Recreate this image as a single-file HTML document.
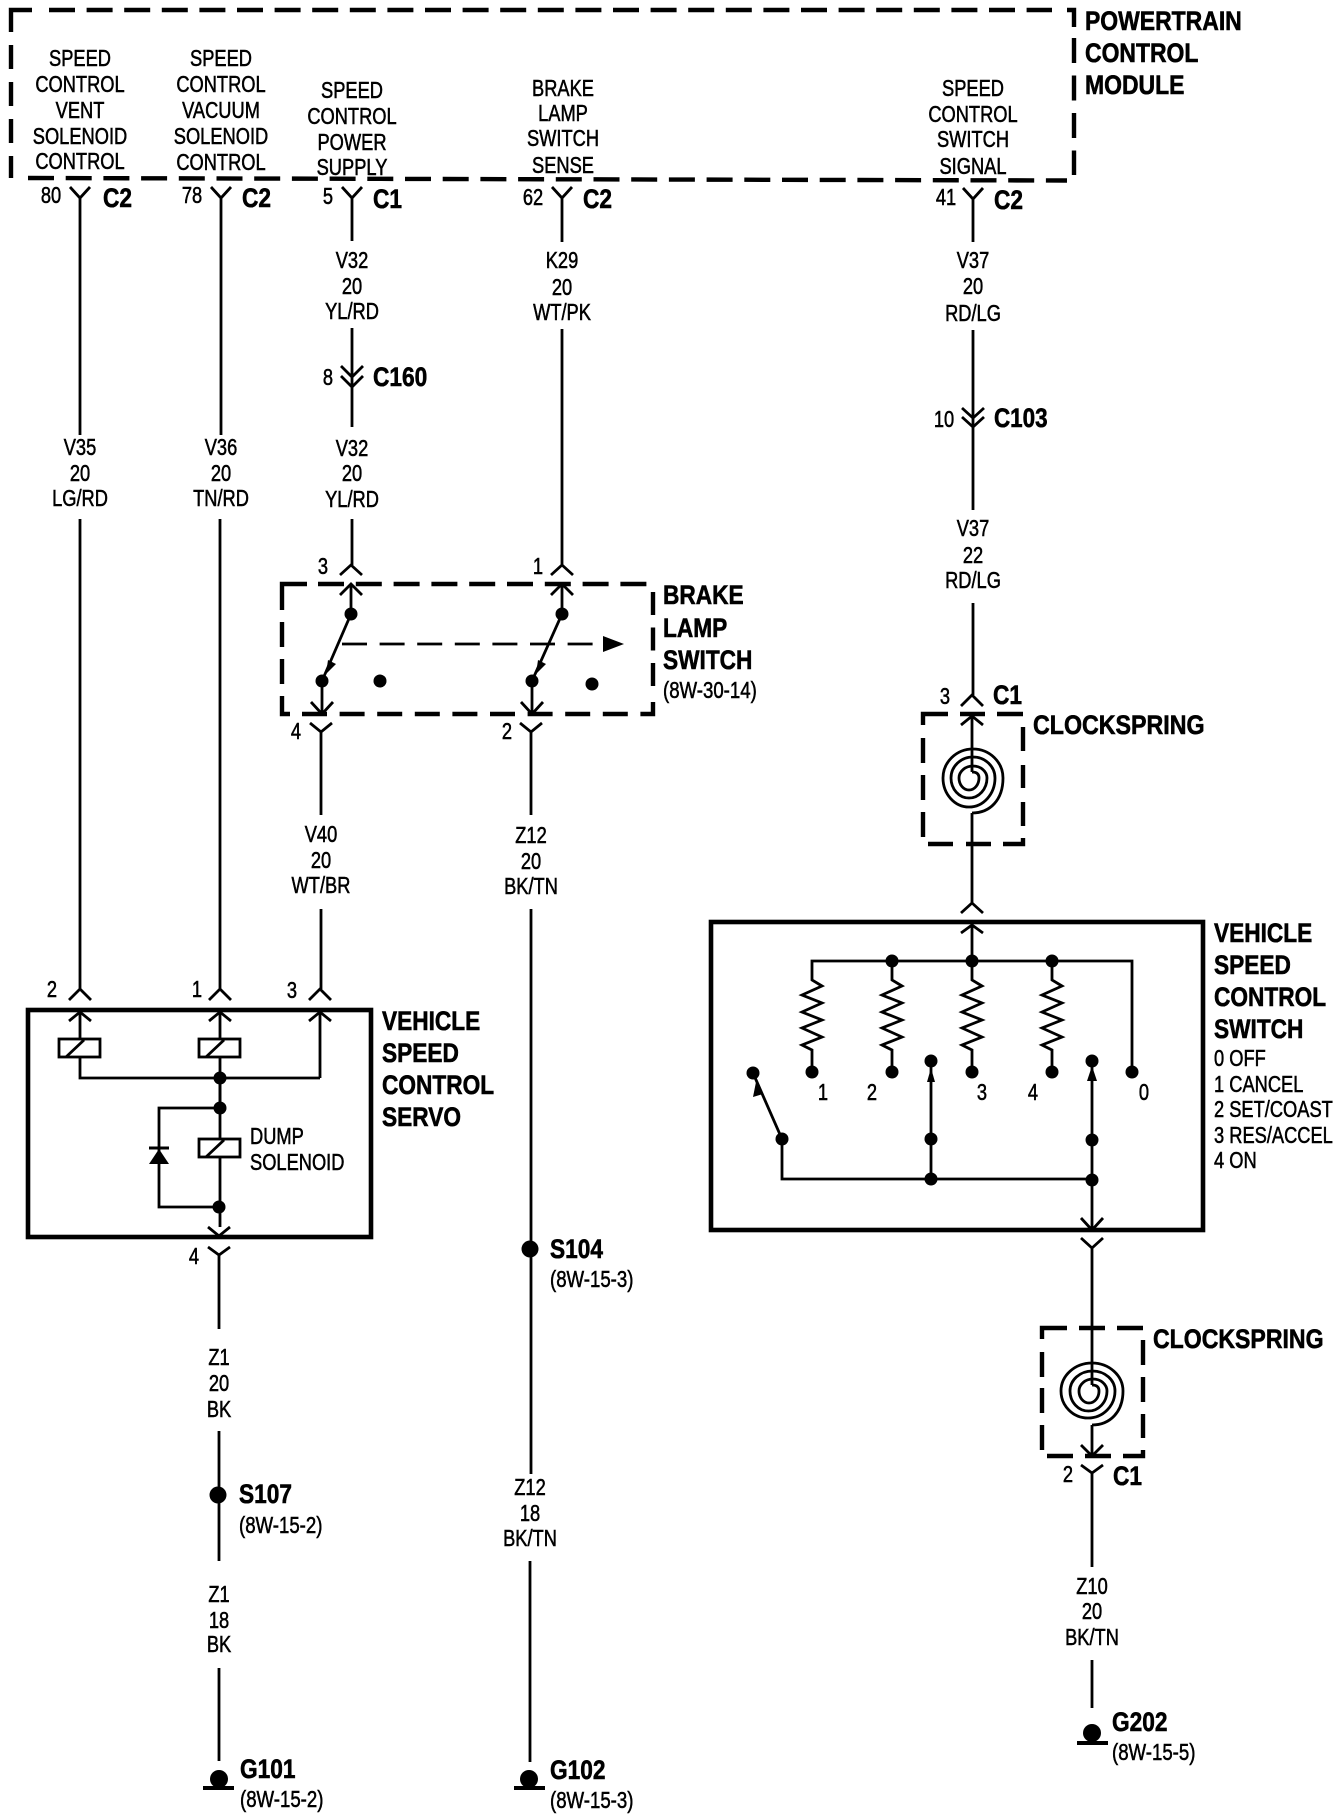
<!DOCTYPE html>
<html><head><meta charset="utf-8"><title>Speed Control Wiring Diagram</title>
<style>
html,body{margin:0;padding:0;background:#fff}
svg{display:block}
text{fill:#000;font-family:"Liberation Sans",sans-serif}
.r{font-size:23px;text-anchor:middle;stroke:#000;stroke-width:.55px}
.l{font-size:23px;stroke:#000;stroke-width:.55px}
.b{font-size:27px;font-weight:bold;stroke:#000;stroke-width:.6px}
.w{fill:none;stroke:#000;stroke-width:2.8}
.d{fill:none;stroke:#000;stroke-width:4.4}
.k{fill:none;stroke:#000;stroke-width:4.6}
</style></head><body>
<svg width="1344" height="1818" viewBox="0 0 1344 1818" xmlns="http://www.w3.org/2000/svg">
<rect width="1344" height="1818" fill="#fff"/>

<!-- PCM dashed box -->
<g class="d">
<path d="M32 10H11V32"/>
<path d="M49 10H1052" stroke-dasharray="26 11.6"/>
<path d="M1067 10H1074V27"/>
<path d="M1074 38V175" stroke-dasharray="25 12.5"/>
<path d="M11 45V178" stroke-dasharray="24 13"/>
<path d="M28 178L1067 180.5" stroke-dasharray="26 11.7"/>
</g>

<!-- PCM text -->
<g class="r">
<text transform="matrix(.795 0 0 1 80 66)">SPEED</text>
<text transform="matrix(.795 0 0 1 80 92)">CONTROL</text>
<text transform="matrix(.795 0 0 1 80 118)">VENT</text>
<text transform="matrix(.795 0 0 1 80 144)">SOLENOID</text>
<text transform="matrix(.795 0 0 1 80 169)">CONTROL</text>
<text transform="matrix(.795 0 0 1 221 66)">SPEED</text>
<text transform="matrix(.795 0 0 1 221 92)">CONTROL</text>
<text transform="matrix(.795 0 0 1 221 118)">VACUUM</text>
<text transform="matrix(.795 0 0 1 221 144)">SOLENOID</text>
<text transform="matrix(.795 0 0 1 221 170)">CONTROL</text>
<text transform="matrix(.795 0 0 1 352 98)">SPEED</text>
<text transform="matrix(.795 0 0 1 352 124)">CONTROL</text>
<text transform="matrix(.795 0 0 1 352 150)">POWER</text>
<text transform="matrix(.795 0 0 1 352 175)">SUPPLY</text>
<text transform="matrix(.795 0 0 1 563 96)">BRAKE</text>
<text transform="matrix(.795 0 0 1 563 121)">LAMP</text>
<text transform="matrix(.795 0 0 1 563 146)">SWITCH</text>
<text transform="matrix(.795 0 0 1 563 173)">SENSE</text>
<text transform="matrix(.795 0 0 1 973 96)">SPEED</text>
<text transform="matrix(.795 0 0 1 973 122)">CONTROL</text>
<text transform="matrix(.795 0 0 1 973 147)">SWITCH</text>
<text transform="matrix(.795 0 0 1 973 174)">SIGNAL</text>

<text transform="matrix(.795 0 0 1 51 203)">80</text>
<text transform="matrix(.795 0 0 1 192 203)">78</text>
<text transform="matrix(.795 0 0 1 328 204)">5</text>
<text transform="matrix(.795 0 0 1 533 205)">62</text>
<text transform="matrix(.795 0 0 1 946 205)">41</text>
<text transform="matrix(.795 0 0 1 328 385)">8</text>
<text transform="matrix(.795 0 0 1 944 427)">10</text>

<text transform="matrix(.795 0 0 1 80 455)">V35</text>
<text transform="matrix(.795 0 0 1 80 481)">20</text>
<text transform="matrix(.795 0 0 1 80 506)">LG/RD</text>
<text transform="matrix(.795 0 0 1 221 455)">V36</text>
<text transform="matrix(.795 0 0 1 221 481)">20</text>
<text transform="matrix(.795 0 0 1 221 506)">TN/RD</text>
<text transform="matrix(.795 0 0 1 352 268)">V32</text>
<text transform="matrix(.795 0 0 1 352 294)">20</text>
<text transform="matrix(.795 0 0 1 352 319)">YL/RD</text>
<text transform="matrix(.795 0 0 1 352 456)">V32</text>
<text transform="matrix(.795 0 0 1 352 481)">20</text>
<text transform="matrix(.795 0 0 1 352 507)">YL/RD</text>
<text transform="matrix(.795 0 0 1 562 268)">K29</text>
<text transform="matrix(.795 0 0 1 562 295)">20</text>
<text transform="matrix(.795 0 0 1 562 320)">WT/PK</text>
<text transform="matrix(.795 0 0 1 973 268)">V37</text>
<text transform="matrix(.795 0 0 1 973 294)">20</text>
<text transform="matrix(.795 0 0 1 973 321)">RD/LG</text>
<text transform="matrix(.795 0 0 1 973 536)">V37</text>
<text transform="matrix(.795 0 0 1 973 563)">22</text>
<text transform="matrix(.795 0 0 1 973 588)">RD/LG</text>
<text transform="matrix(.795 0 0 1 321 842)">V40</text>
<text transform="matrix(.795 0 0 1 321 868)">20</text>
<text transform="matrix(.795 0 0 1 321 893)">WT/BR</text>
<text transform="matrix(.795 0 0 1 531 843)">Z12</text>
<text transform="matrix(.795 0 0 1 531 869)">20</text>
<text transform="matrix(.795 0 0 1 531 894)">BK/TN</text>
<text transform="matrix(.795 0 0 1 530 1495)">Z12</text>
<text transform="matrix(.795 0 0 1 530 1521)">18</text>
<text transform="matrix(.795 0 0 1 530 1546)">BK/TN</text>
<text transform="matrix(.795 0 0 1 219 1365)">Z1</text>
<text transform="matrix(.795 0 0 1 219 1391)">20</text>
<text transform="matrix(.795 0 0 1 219 1417)">BK</text>
<text transform="matrix(.795 0 0 1 219 1602)">Z1</text>
<text transform="matrix(.795 0 0 1 219 1628)">18</text>
<text transform="matrix(.795 0 0 1 219 1652)">BK</text>
<text transform="matrix(.795 0 0 1 1092 1594)">Z10</text>
<text transform="matrix(.795 0 0 1 1092 1619)">20</text>
<text transform="matrix(.795 0 0 1 1092 1645)">BK/TN</text>

<text transform="matrix(.795 0 0 1 323 574)">3</text>
<text transform="matrix(.795 0 0 1 538 574)">1</text>
<text transform="matrix(.795 0 0 1 296 739)">4</text>
<text transform="matrix(.795 0 0 1 507 739)">2</text>
<text transform="matrix(.795 0 0 1 945 704)">3</text>
<text transform="matrix(.795 0 0 1 52 997)">2</text>
<text transform="matrix(.795 0 0 1 197 997)">1</text>
<text transform="matrix(.795 0 0 1 292 998)">3</text>
<text transform="matrix(.795 0 0 1 194 1264)">4</text>
<text transform="matrix(.795 0 0 1 1068 1482)">2</text>
<text transform="matrix(.795 0 0 1 823 1100)">1</text>
<text transform="matrix(.795 0 0 1 872 1100)">2</text>
<text transform="matrix(.795 0 0 1 982 1100)">3</text>
<text transform="matrix(.795 0 0 1 1033 1100)">4</text>
<text transform="matrix(.795 0 0 1 1144 1100)">0</text>
</g>

<!-- left-anchored regular -->
<g class="l">
<text transform="matrix(.81 0 0 1 663 698)">(8W-30-14)</text>
<text transform="matrix(.795 0 0 1 250 1144)">DUMP</text>
<text transform="matrix(.795 0 0 1 250 1170)">SOLENOID</text>
<text transform="matrix(.81 0 0 1 550 1287)">(8W-15-3)</text>
<text transform="matrix(.81 0 0 1 239 1533)">(8W-15-2)</text>
<text transform="matrix(.81 0 0 1 240 1807)">(8W-15-2)</text>
<text transform="matrix(.81 0 0 1 550 1808)">(8W-15-3)</text>
<text transform="matrix(.81 0 0 1 1112 1760)">(8W-15-5)</text>
<text transform="matrix(.795 0 0 1 1214 1066)">0 OFF</text>
<text transform="matrix(.795 0 0 1 1214 1092)">1 CANCEL</text>
<text transform="matrix(.795 0 0 1 1214 1117)">2 SET/COAST</text>
<text transform="matrix(.795 0 0 1 1214 1143)">3 RES/ACCEL</text>
<text transform="matrix(.795 0 0 1 1214 1168)">4 ON</text>
</g>

<!-- bold labels -->
<g class="b">
<text transform="matrix(.85 0 0 1 1085 30)">POWERTRAIN</text>
<text transform="matrix(.85 0 0 1 1085 62)">CONTROL</text>
<text transform="matrix(.85 0 0 1 1085 94)">MODULE</text>
<text transform="matrix(.84 0 0 1 103 207)">C2</text>
<text transform="matrix(.84 0 0 1 242 207)">C2</text>
<text transform="matrix(.84 0 0 1 373 208)">C1</text>
<text transform="matrix(.84 0 0 1 583 208)">C2</text>
<text transform="matrix(.84 0 0 1 994 209)">C2</text>
<text transform="matrix(.84 0 0 1 373 386)">C160</text>
<text transform="matrix(.83 0 0 1 994 427)">C103</text>
<text transform="matrix(.84 0 0 1 663 604)">BRAKE</text>
<text transform="matrix(.84 0 0 1 663 637)">LAMP</text>
<text transform="matrix(.84 0 0 1 663 669)">SWITCH</text>
<text transform="matrix(.84 0 0 1 993 704)">C1</text>
<text transform="matrix(.86 0 0 1 1033 734)">CLOCKSPRING</text>
<text transform="matrix(.84 0 0 1 1214 942)">VEHICLE</text>
<text transform="matrix(.84 0 0 1 1214 974)">SPEED</text>
<text transform="matrix(.84 0 0 1 1214 1006)">CONTROL</text>
<text transform="matrix(.84 0 0 1 1214 1038)">SWITCH</text>
<text transform="matrix(.84 0 0 1 382 1030)">VEHICLE</text>
<text transform="matrix(.84 0 0 1 382 1062)">SPEED</text>
<text transform="matrix(.84 0 0 1 382 1094)">CONTROL</text>
<text transform="matrix(.84 0 0 1 382 1126)">SERVO</text>
<text transform="matrix(.84 0 0 1 550 1258)">S104</text>
<text transform="matrix(.84 0 0 1 239 1503)">S107</text>
<text transform="matrix(.855 0 0 1 1153 1348)">CLOCKSPRING</text>
<text transform="matrix(.84 0 0 1 1113 1485)">C1</text>
<text transform="matrix(.84 0 0 1 240 1778)">G101</text>
<text transform="matrix(.84 0 0 1 550 1779)">G102</text>
<text transform="matrix(.84 0 0 1 1112 1731)">G202</text>
</g>

<!-- Wires and connectors -->
<g class="w">
<!-- col 1 -->
<path d="M70 187L80 198L90 187M80 198V435M80 519V989M69 1000L80 989L91 1000M69 1021L80 1012L91 1021M80 1012V1039M80 1057V1078H320"/>
<!-- col 2 -->
<path d="M211 187L221 198L231 187M221 198V435M220 519V989M209 1000L220 989L231 1000M209 1021L220 1012L231 1021M220 1012V1039M220 1057V1139M220 1157V1227"/>
<!-- col 3 -->
<path d="M342 187L352 198L362 187M352 198V241M352 328V427M341 366L352 377L363 366M341 376L352 387L363 376M352 519V565M340 575L351 565L362 575M340 595L351 584L362 595M351 584V614M351 614L322 681M322 681V714M311 702L322 714L333 702M310 723L321 732L332 723M321 732V815M321 909V989M309 1000L320 989L331 1000M309 1021L320 1012L331 1021M320 1012V1078"/>
<!-- col 4 -->
<path d="M552 187L562 198L572 187M562 198V242M562 329V565M551 575L562 565L573 575M551 595L562 584L573 595M562 584V614M562 614L532 681M532 681V714M521 702L532 714L543 702M520 723L531 732L542 723M531 732V815M531 909V1474M530 1561V1762"/>
<!-- servo lower -->
<path d="M220 1078V1108H159V1207H219M208 1227L219 1236L230 1227M208 1247L219 1255L230 1247M219 1255V1329M219 1431V1561M219 1668V1761"/>
<path d="M66 1057L84 1040M206 1057L224 1040M206 1157L224 1140"/>
<!-- col 5 -->
<path d="M963 188L973 199L983 188M973 199V242M973 330V510M962 408L973 418L984 408M962 417L973 427L984 417M973 603V695M961 706L972 695L983 706M961 725L972 716L983 725M972 716V772"/>
<path d="M972 813V903M961 913L972 903L983 913M961 933L972 925L983 933M972 925V961"/>
<path d="M972 813C990 813 1003 800 1003 778A30 29 0 0 0 943 778A26 29 0 0 0 995 778A22 21 0 0 0 951 778A18 20 0 0 0 987 778A14 12 0 0 0 959 778A10 12 0 0 0 979 778Q979 772 972 772"/>
<!-- switch -->
<path d="M812 1072V1050L802 1045L822 1037L802 1028L822 1020L802 1012L822 1003L802 995L822 986L812 980V961H1132V1072"/>
<path d="M892 1072V1050L882 1045L902 1037L882 1028L902 1020L882 1012L902 1003L882 995L902 986L892 980V961"/>
<path d="M972 1072V1050L962 1045L982 1037L962 1028L982 1020L962 1012L982 1003L962 995L982 986L972 980V961"/>
<path d="M1052 1072V1050L1042 1045L1062 1037L1042 1028L1062 1020L1042 1012L1062 1003L1042 995L1062 986L1052 980V961"/>
<path d="M753 1073L782 1139V1179H1092M931 1179V1061M1092 1061V1228M1081 1218L1092 1230L1103 1218M1081 1238L1092 1248L1103 1238M1092 1248V1385"/>
<path d="M1092 1425C1110 1425 1123 1412 1123 1391A31 28 0 0 0 1061 1391A27 27 0 0 0 1115 1391A22.5 20 0 0 0 1070 1391A18.5 20 0 0 0 1107 1391A14 12 0 0 0 1079 1391A10 12 0 0 0 1099 1391Q1099 1385 1092 1385"/>
<path d="M1092 1425V1456M1081 1445L1092 1456L1103 1445M1081 1465L1092 1473L1103 1465M1092 1473V1567M1092 1660V1708"/>
<!-- solenoid boxes -->
<rect x="59" y="1039" width="41" height="18"/>
<rect x="199" y="1039" width="41" height="18"/>
<rect x="199" y="1139" width="41" height="18"/>
<!-- dashed arrow -->
<path d="M342 644H603" stroke-dasharray="25 12.6"/>
<path d="M149 1148H169" stroke-width="3"/>
</g>

<!-- Dashed switch box -->
<g class="d">
<path d="M307 584H282V610"/>
<path d="M318 584H653" stroke-dasharray="26 11.8"/>
<path d="M282 622V697" stroke-dasharray="25 12"/>
<path d="M282 697V714H290"/>
<path d="M302 714H645" stroke-dasharray="25 12.6"/>
<path d="M653 592V690" stroke-dasharray="23 12.5"/>
<path d="M645 714H653V702"/>
<!-- clockspring 1 -->
<path d="M948 714H923V725M960 714H985M997 714H1023"/>
<path d="M923 738V763M923 775V800M923 812V837"/>
<path d="M1023 727V751M1023 765V788M1023 802V826M1023 838V844H1003V844M991 844H966M953 844H928"/>
<!-- clockspring 2 -->
<path d="M1067 1328H1042V1339M1079 1328H1105M1117 1328H1143"/>
<path d="M1042 1352V1377M1042 1388V1413M1042 1425V1450"/>
<path d="M1143 1340V1365M1143 1377V1402M1143 1414V1438M1143 1450V1456H1123M1111 1456H1085M1073 1456H1047"/>
</g>

<!-- Solid boxes -->
<rect class="k" x="28" y="1010" width="343" height="227"/>
<rect class="k" x="711" y="922" width="492" height="308"/>

<!-- Filled shapes -->
<g fill="#000">
<polygon points="624,644 603,636 603,652"/>
<polygon points="326,674 328,660 336,664"/>
<polygon points="536,674 538,660 546,664"/>
<polygon points="159,1149 149,1164 169,1164"/>
<polygon points="756,1082 753,1097 763,1094"/>
<polygon points="931,1068 927,1082 935,1082"/>
<polygon points="1092,1066 1087,1081 1097,1081"/>

<circle cx="351" cy="614" r="6.5"/><circle cx="322" cy="681" r="6.5"/><circle cx="380" cy="681" r="6.5"/>
<circle cx="562" cy="614" r="6.5"/><circle cx="532" cy="681" r="6.5"/><circle cx="592" cy="684" r="6.5"/>
<circle cx="220" cy="1078" r="6.5"/><circle cx="220" cy="1108" r="6.5"/><circle cx="219" cy="1207" r="6.5"/>
<circle cx="892" cy="961" r="6.5"/><circle cx="972" cy="961" r="6.5"/><circle cx="1052" cy="961" r="6.5"/>
<circle cx="812" cy="1072" r="6.5"/><circle cx="892" cy="1072" r="6.5"/><circle cx="972" cy="1072" r="6.5"/><circle cx="1052" cy="1072" r="6.5"/><circle cx="1132" cy="1072" r="6.5"/>
<circle cx="753" cy="1073" r="6.5"/><circle cx="931" cy="1061" r="6.5"/><circle cx="1092" cy="1061" r="6.5"/>
<circle cx="782" cy="1139" r="6.5"/><circle cx="931" cy="1139" r="6.5"/><circle cx="1092" cy="1140" r="6.5"/>
<circle cx="931" cy="1179" r="6.5"/><circle cx="1092" cy="1180" r="6.5"/>
<circle cx="530" cy="1249" r="8.5"/><circle cx="218" cy="1495" r="8.5"/>
<!-- grounds -->
<circle cx="219" cy="1779" r="9"/><rect x="203" y="1786" width="31" height="4"/>
<circle cx="529" cy="1779" r="9"/><rect x="514" y="1786" width="31" height="4"/>
<circle cx="1092" cy="1733" r="9"/><rect x="1077" y="1741" width="31" height="4"/>
</g>
</svg>
</body></html>
